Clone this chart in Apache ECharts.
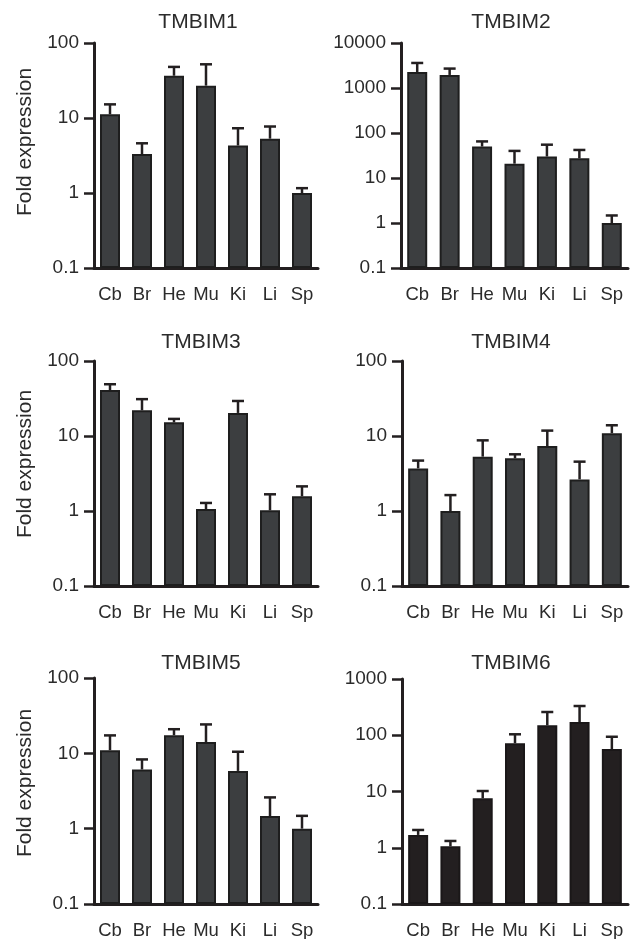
<!DOCTYPE html>
<html>
<head>
<meta charset="utf-8">
<script src="https://cdn.jsdelivr.net/npm/echarts@6/dist/echarts.min.js"></script>
<style>
  html, body { margin: 0; padding: 0; background: #fff; }
  #chart { width: 638px; height: 939px; }
</style>
</head>
<body>
<div id="chart"></div>
<script>
var tissues = ['Cb', 'Br', 'He', 'Mu', 'Ki', 'Li', 'Sp'];
var panelTitles = ['TMBIM1', 'TMBIM2', 'TMBIM3', 'TMBIM4', 'TMBIM5', 'TMBIM6'];
var axisMax = [100, 10000, 100, 100, 100, 1000];

// mean fold expression per tissue
var tmbim1 = [11.2, 3.3, 36.6, 27, 4.3, 5.3, 1.0];
var tmbim2 = [2270, 1950, 50, 20.8, 30, 27.3, 1.0];
var tmbim3 = [41, 22, 15.2, 1.06, 20.3, 1.02, 1.57];
var tmbim4 = [3.7, 1.0, 5.3, 5.04, 7.35, 2.64, 10.9];
var tmbim5 = [11, 6.1, 17.4, 14.1, 5.84, 1.47, 1.0];
var tmbim6 = [1.69, 1.06, 7.56, 72, 150, 172, 57];

// top of the error bar (mean + error)
var tmbim1Err = [15.2, 4.6, 48, 52, 7.3, 7.7, 1.16];
var tmbim2Err = [3600, 2700, 65, 40, 55, 42, 1.47];
var tmbim3Err = [49, 31, 16.9, 1.28, 29.3, 1.67, 2.13];
var tmbim4Err = [4.7, 1.63, 8.75, 5.7, 11.8, 4.55, 13.9];
var tmbim5Err = [17.3, 8.3, 20.9, 24.2, 10.5, 2.6, 1.48];
var tmbim6Err = [2.07, 1.32, 10.2, 104, 259, 331, 94];

var means = [tmbim1, tmbim2, tmbim3, tmbim4, tmbim5, tmbim6];
var errs = [tmbim1Err, tmbim2Err, tmbim3Err, tmbim4Err, tmbim5Err, tmbim6Err];

var FONT = '"Liberation Sans", Arial, Helvetica, sans-serif';
var INK = '#231f20';
var TXT = '#2b2b2b';

// panel boxes
var boxes = [
  { left: 94, top: 43, width: 224, height: 225 },
  { left: 401, top: 43, width: 227, height: 225 },
  { left: 94, top: 361, width: 224, height: 225 },
  { left: 402, top: 361, width: 226, height: 225 },
  { left: 94, top: 678, width: 224, height: 226 },
  { left: 402, top: 679, width: 226, height: 225 }
];
var titlePos = [[198, 22], [511, 22], [201, 342], [511, 342], [201, 663], [511, 663]];
var yNamePos = [[25, 142], [25, 464], [25, 783]];

function renderErr(params, api) {
  var x = api.value(0);
  var lo = api.coord([x, api.value(1)]);
  var hi = api.coord([x, api.value(2)]);
  var st = { stroke: INK, lineWidth: 2.5 };
  return {
    type: 'group',
    children: [
      { type: 'line', shape: { x1: lo[0], y1: lo[1], x2: hi[0], y2: hi[1] }, style: st },
      { type: 'line', shape: { x1: hi[0] - 6, y1: hi[1], x2: hi[0] + 6, y2: hi[1] }, style: st }
    ]
  };
}

var grids = [], xAxes = [], yAxes = [], series = [], graphics = [];

for (var i = 0; i < 6; i++) {
  var b = boxes[i];
  grids.push({ left: b.left, top: b.top, width: b.width, height: b.height, outerBoundsMode: 'none' });
  xAxes.push({
    type: 'category', gridIndex: i, data: tissues,
    axisLine: { lineStyle: { color: INK, width: 3 } },
    axisTick: { alignWithLabel: true, length: 10, lineStyle: { color: INK, width: 2.5 } },
    axisLabel: { color: TXT, fontSize: 18.5, fontFamily: FONT, margin: 17, interval: 0 }
  });
  yAxes.push({
    type: 'log', gridIndex: i, logBase: 10, min: 0.1, max: axisMax[i], startValue: 0.1,
    axisLine: { show: true, lineStyle: { color: INK, width: 3 } },
    axisTick: { show: true, length: 10, lineStyle: { color: INK, width: 2.5 } },
    splitLine: { show: false },
    axisLabel: {
      color: TXT, fontSize: 19, fontFamily: FONT, margin: 15,
      formatter: function (v) { return String(+(+v).toPrecision(3)); }
    }
  });
  var dark = i === 5;
  series.push({
    type: 'bar', xAxisIndex: i, yAxisIndex: i, data: means[i], barWidth: 20,
    itemStyle: { color: dark ? '#231f20' : '#3c3e40', borderColor: dark ? '#1a1718' : '#1e1e1e', borderWidth: 2 },
    silent: true
  });
  var errData = means[i].map(function (m, k) { return [k, m, errs[i][k]]; });
  series.push({
    type: 'custom', xAxisIndex: i, yAxisIndex: i, data: errData,
    encode: { x: 0, y: [1, 2] }, renderItem: renderErr, z: 5, silent: true
  });
  graphics.push({
    type: 'text', x: titlePos[i][0], y: titlePos[i][1],
    style: { text: panelTitles[i], fill: TXT, font: '21px ' + FONT, align: 'center', verticalAlign: 'middle' }
  });
}

yNamePos.forEach(function (p) {
  graphics.push({
    type: 'text', x: p[0], y: p[1], rotation: Math.PI / 2,
    style: { text: 'Fold expression', fill: TXT, font: '21px ' + FONT, align: 'center', verticalAlign: 'middle' }
  });
});

var chart = echarts.init(document.getElementById('chart'));
chart.setOption({
  animation: false,
  backgroundColor: '#fff',
  grid: grids,
  xAxis: xAxes,
  yAxis: yAxes,
  series: series,
  graphic: graphics
});
</script>
</body>
</html>
